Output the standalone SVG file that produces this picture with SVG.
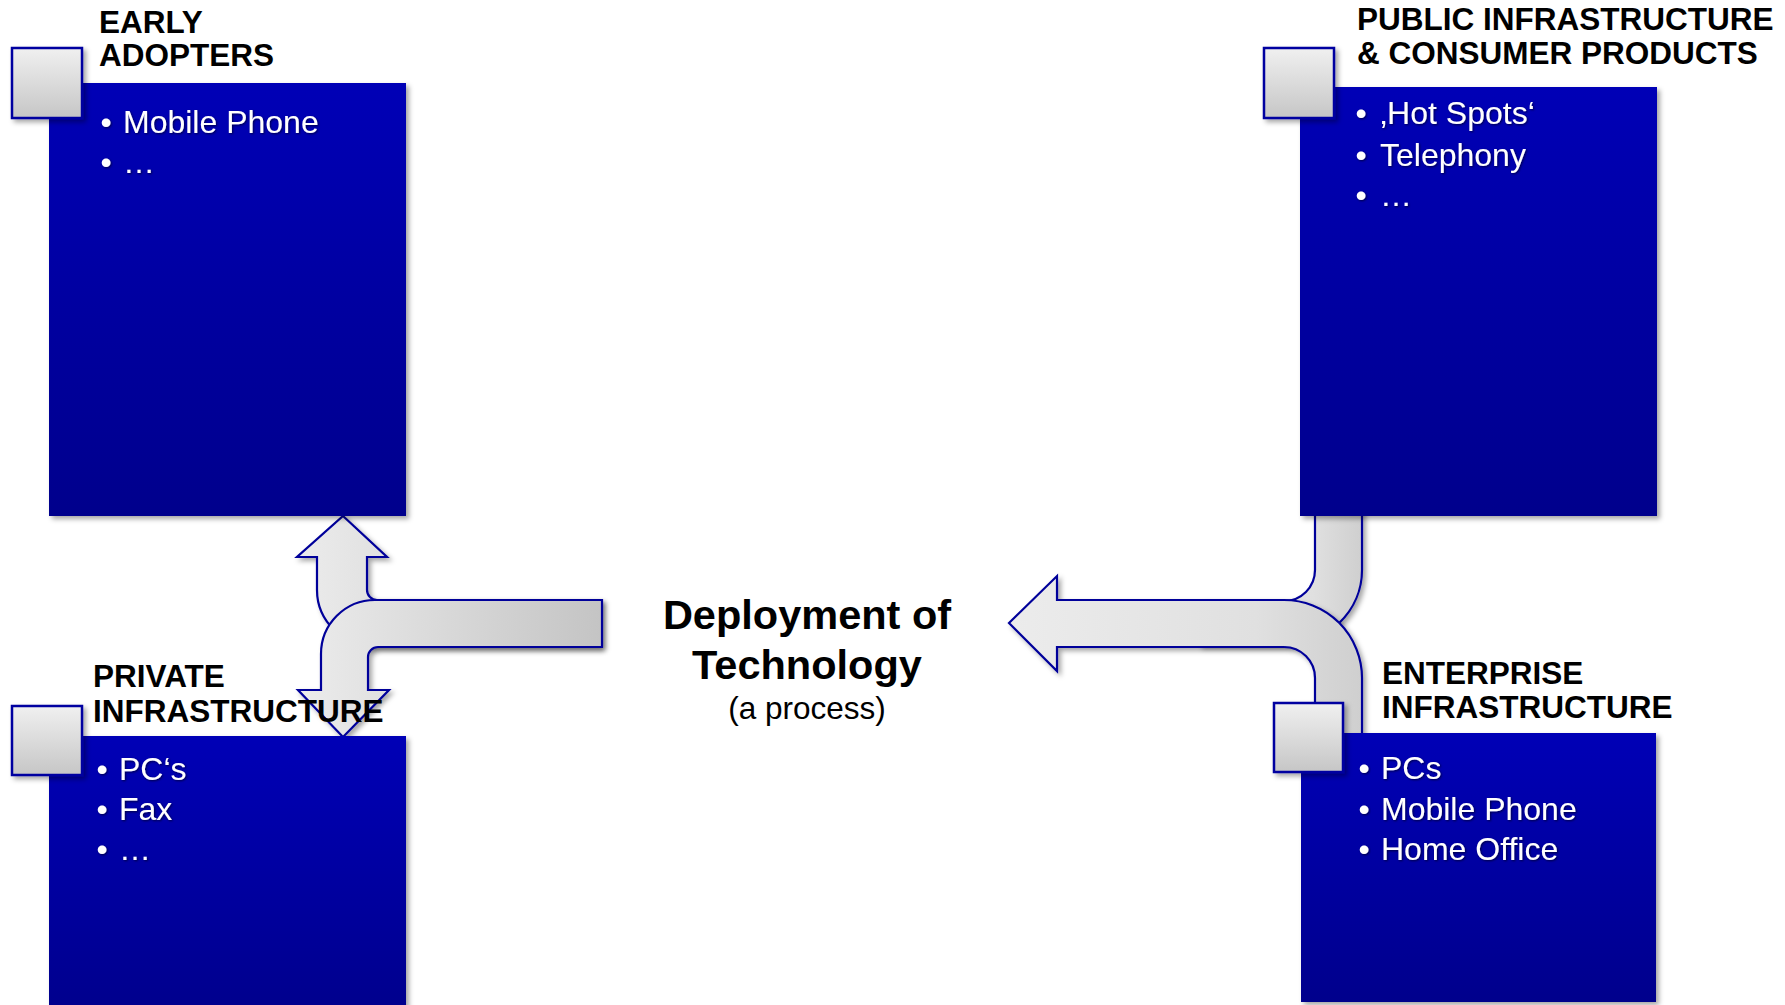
<svg xmlns="http://www.w3.org/2000/svg" width="1785" height="1005" viewBox="0 0 1785 1005">
<defs>
<linearGradient id="boxg" x1="0" y1="0" x2="0" y2="1">
<stop offset="0" stop-color="#0000B6"/>
<stop offset="1" stop-color="#00008C"/>
</linearGradient>
<linearGradient id="sqg" x1="0" y1="0" x2="0" y2="1">
<stop offset="0" stop-color="#F0F0F0"/>
<stop offset="1" stop-color="#C6C6C6"/>
</linearGradient>
<linearGradient id="arrL" x1="0" y1="0" x2="1" y2="0">
<stop offset="0" stop-color="#ECECEC"/>
<stop offset="1" stop-color="#C4C4C4"/>
</linearGradient>
<linearGradient id="arrR" x1="0" y1="0" x2="1" y2="0">
<stop offset="0" stop-color="#ECECEC"/>
<stop offset="0.7" stop-color="#E0E0E0"/>
<stop offset="1" stop-color="#CFCFCF"/>
</linearGradient>
<filter id="sh" x="-10%" y="-10%" width="130%" height="130%">
<feDropShadow dx="3" dy="3" stdDeviation="2.5" flood-color="#000" flood-opacity="0.35"/>
</filter>
<filter id="tsh" x="-10%" y="-30%" width="120%" height="160%">
<feDropShadow dx="1" dy="1" stdDeviation="1" flood-color="#000" flood-opacity="0.6"/>
</filter>
</defs>
<style>
.box{fill:url(#boxg);filter:url(#sh)}
.sq{fill:url(#sqg);stroke:#0000A0;stroke-width:2.5;filter:url(#sh)}
.arrow{stroke:#00009A;stroke-width:2.2;stroke-linejoin:miter;filter:url(#sh)}
.title{font-family:"Liberation Sans",Arial,Helvetica,sans-serif;font-weight:bold;font-size:31.5px;fill:#000}
.item{font-family:"Liberation Sans",Arial,Helvetica,sans-serif;font-size:32px;fill:#fff;filter:url(#tsh)}
.center{font-family:"Liberation Sans",Arial,Helvetica,sans-serif;fill:#000;text-anchor:middle}
</style>
<rect width="1785" height="1005" fill="#fff"/>

<g id="connectors">
<path class="arrow" fill="url(#arrL)" d="M343,516 L387,557 L367,557 L367,590 A10,10 0 0 0 377,600 L600,600 L600,647 L377,647 A60,57 0 0 1 317,590 L317,557 L297,557 Z"/>
<path class="arrow" fill="url(#arrL)" d="M602,600 L602,647 L378,647 A10,10 0 0 0 368,657 L368,690 L389,690 L343,737 L298,690 L321,690 L321,654 A54,54 0 0 1 375,600 Z"/>
<path class="arrow" fill="url(#arrR)" d="M1315,505 L1362,505 L1362,570 A78,75 0 0 1 1284,645 L1200,645 L1200,601 L1284,601 A31,31 0 0 0 1315,570 Z"/>
<path class="arrow" fill="url(#arrR)" d="M1009,623 L1057,576 L1057,600 L1284,600 A78,78 0 0 1 1362,678 L1362,745 L1315,745 L1315,678 A31,31 0 0 0 1284,647 L1057,647 L1057,671 Z"/>
</g>

<g id="early-adopters">
<rect class="box" x="49" y="83" width="357" height="433"/>
<rect class="sq" x="12" y="48" width="70" height="70"/>
<text class="title" x="99" y="33">EARLY</text>
<text class="title" x="99" y="66">ADOPTERS</text>
<text class="item" x="100.5" y="133">•</text>
<text class="item" x="123" y="133">Mobile Phone</text>
<text class="item" x="100.5" y="173">•</text>
<text class="item" x="123" y="173">…</text>
</g>

<g id="public-infrastructure">
<rect class="box" x="1300" y="87" width="357" height="429"/>
<rect class="sq" x="1264" y="48" width="70" height="70"/>
<text class="title" x="1357" y="30">PUBLIC INFRASTRUCTURE</text>
<text class="title" x="1357" y="64">&amp; CONSUMER PRODUCTS</text>
<text class="item" x="1355.5" y="124">•</text>
<text class="item" x="1380" y="124">‚Hot Spots‘</text>
<text class="item" x="1355.5" y="166">•</text>
<text class="item" x="1380" y="166">Telephony</text>
<text class="item" x="1355.5" y="206">•</text>
<text class="item" x="1380" y="206">…</text>
</g>

<g id="private-infrastructure">
<rect class="box" x="49" y="736" width="357" height="280"/>
<rect class="sq" x="12" y="706" width="70" height="69"/>
<text class="title" x="93" y="687">PRIVATE</text>
<text class="title" x="93" y="722">INFRASTRUCTURE</text>
<text class="item" x="96.5" y="780">•</text>
<text class="item" x="119" y="780">PC‘s</text>
<text class="item" x="96.5" y="820">•</text>
<text class="item" x="119" y="820">Fax</text>
<text class="item" x="96.5" y="860">•</text>
<text class="item" x="119" y="860">…</text>
</g>

<g id="enterprise-infrastructure">
<rect class="box" x="1301" y="733" width="355" height="269"/>
<rect class="sq" x="1274" y="703" width="69" height="69"/>
<text class="title" x="1382" y="684">ENTERPRISE</text>
<text class="title" x="1382" y="718">INFRASTRUCTURE</text>
<text class="item" x="1358.5" y="779">•</text>
<text class="item" x="1381" y="779">PCs</text>
<text class="item" x="1358.5" y="820">•</text>
<text class="item" x="1381" y="820">Mobile Phone</text>
<text class="item" x="1358.5" y="860">•</text>
<text class="item" x="1381" y="860">Home Office</text>
</g>

<g id="deployment">
<text class="center" x="807" y="629" font-weight="bold" font-size="41.5">Deployment of</text>
<text class="center" x="807" y="679" font-weight="bold" font-size="41.5">Technology</text>
<text class="center" x="807" y="719" font-size="31.5">(a process)</text>
</g>
</svg>
